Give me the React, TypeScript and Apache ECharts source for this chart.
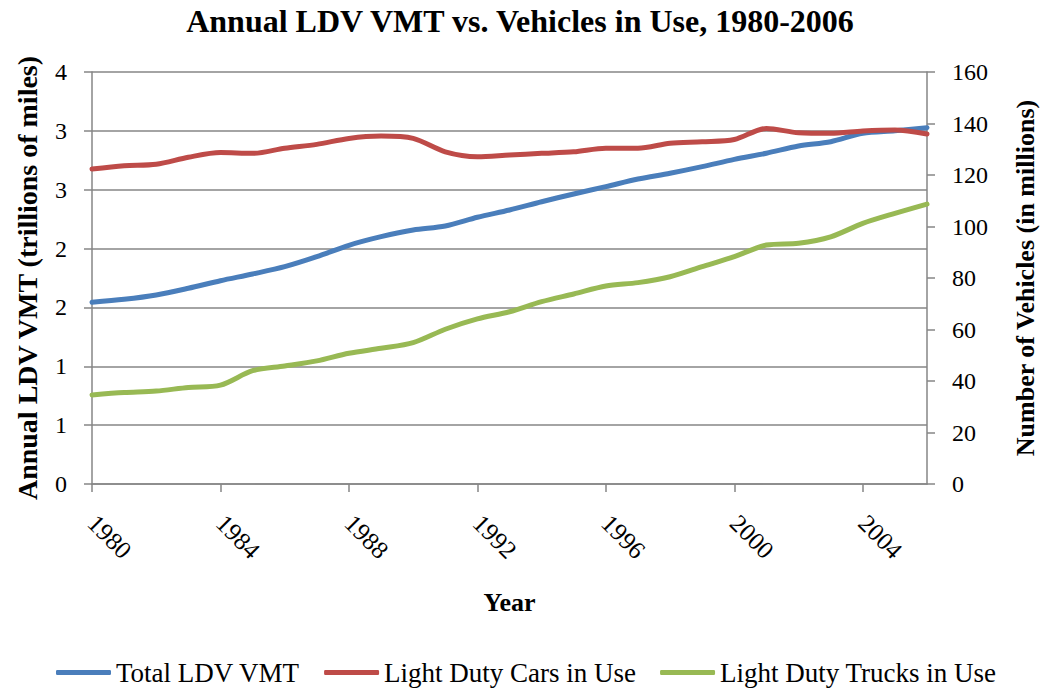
import React, { useEffect, useRef } from "react";
import * as echarts from "echarts";

const years: string[] = [
  "1980","1981","1982","1983","1984","1985","1986","1987","1988","1989",
  "1990","1991","1992","1993","1994","1995","1996","1997","1998","1999",
  "2000","2001","2002","2003","2004","2005","2006",
];

const totalLdvVmt: number[] = [
  1.544, 1.569, 1.606, 1.663, 1.727, 1.784, 1.846, 1.931, 2.028, 2.101,
  2.158, 2.192, 2.266, 2.328, 2.398, 2.464, 2.526, 2.591, 2.64, 2.696,
  2.758, 2.81, 2.871, 2.908, 2.979, 3.001, 3.027,
];

const carsInUse: number[] = [
  122.3, 123.6, 124.2, 126.9, 128.7, 128.4, 130.4, 131.9, 134.2, 135.1,
  134.2, 129.0, 127.1, 127.8, 128.4, 129.0, 130.4, 130.4, 132.3, 132.9,
  133.8, 138.1, 136.4, 136.2, 137.1, 137.5, 135.9,
];

const trucksInUse: number[] = [
  34.6, 35.5, 36.1, 37.5, 38.4, 44.0, 45.8, 47.8, 50.8, 52.7,
  54.9, 60.1, 64.1, 66.9, 70.8, 73.8, 76.9, 78.2, 80.5, 84.4,
  88.3, 92.8, 93.5, 96.0, 101.2, 105.1, 108.7,
];

const seriesNames = ["Total LDV VMT", "Light Duty Cars in Use", "Light Duty Trucks in Use"];
const colors = ["#4A7EBB", "#BE4B48", "#98B954"];

const FONT = "'Liberation Serif', 'Times New Roman', serif";
const AXIS_GRAY = "#868686";

export default function App() {
  const ref = useRef<HTMLDivElement>(null);

  useEffect(() => {
    if (!ref.current) return;
    const chart = echarts.init(ref.current, null, { renderer: "svg" });
    const axisLine = { show: true, lineStyle: { color: AXIS_GRAY, width: 1.5 } };
    const axisTick = { show: true, length: 8, lineStyle: { color: AXIS_GRAY, width: 1.5 } };
    const labelStyle = { color: "#000", fontFamily: FONT, fontSize: 24 };
    const nameStyle = { color: "#000", fontFamily: FONT, fontSize: 27, fontWeight: "bold" as const };

    chart.setOption({
      animation: false,
      backgroundColor: "#fff",
      textStyle: { fontFamily: FONT },
      title: {
        text: "Annual LDV VMT vs. Vehicles in Use, 1980-2006",
        left: "center",
        top: 0,
        textStyle: { color: "#000", fontFamily: FONT, fontSize: 32, fontWeight: "bold" },
      },
      legend: {
        data: seriesNames,
        left: 51,
        top: 654,
        itemWidth: 55,
        itemHeight: 5,
        itemGap: 24,
        icon: "roundRect",
        textStyle: { color: "#000", fontFamily: FONT, fontSize: 27 },
      },
      grid: {
        left: 92,
        right: 113,
        top: 72,
        bottom: 205,
        containLabel: false,
        outerBoundsMode: "none",
      },
      xAxis: {
        type: "category",
        data: years,
        boundaryGap: false,
        axisLine,
        axisTick: { ...axisTick, interval: 3 },
        axisLabel: { ...labelStyle, fontSize: 25, interval: 3, rotate: -45, margin: 35 },
        splitLine: { show: false },
        name: "Year",
        nameLocation: "middle",
        nameGap: 105,
        nameTextStyle: { ...nameStyle, fontSize: 26 },
      },
      yAxis: [
        {
          type: "value",
          position: "left",
          min: 0,
          max: 3.5,
          interval: 0.5,
          axisLine,
          axisTick,
          axisLabel: { ...labelStyle, margin: 25, formatter: (v: number) => String(Math.round(v)) },
          splitLine: { show: true, lineStyle: { color: AXIS_GRAY, width: 1.5 } },
          name: "Annual LDV VMT (trillions of miles)",
          nameLocation: "middle",
          nameGap: 51,
          nameTextStyle: { ...nameStyle, fontSize: 28 },
        },
        {
          type: "value",
          position: "right",
          min: 0,
          max: 160,
          interval: 20,
          axisLine,
          axisTick,
          axisLabel: { ...labelStyle, margin: 25 },
          splitLine: { show: false },
          name: "Number of Vehicles (in millions)",
          nameLocation: "middle",
          nameGap: 85,
          nameTextStyle: { ...nameStyle, fontSize: 26 },
        },
      ],
      series: [
        { name: seriesNames[0], data: totalLdvVmt, yAxisIndex: 0 },
        { name: seriesNames[1], data: carsInUse, yAxisIndex: 1 },
        { name: seriesNames[2], data: trucksInUse, yAxisIndex: 1 },
      ].map((s, i) => ({
        ...s,
        type: "line",
        smooth: 0.3,
        showSymbol: false,
        symbol: "none",
        color: colors[i],
        lineStyle: { color: colors[i], width: 5, cap: "round", join: "round" },
      })),
    });

    return () => chart.dispose();
  }, []);

  return (
    <div
      ref={ref}
      style={{ position: "fixed", left: 0, top: 0, width: 1040, height: 689, background: "#fff" }}
    />
  );
}
